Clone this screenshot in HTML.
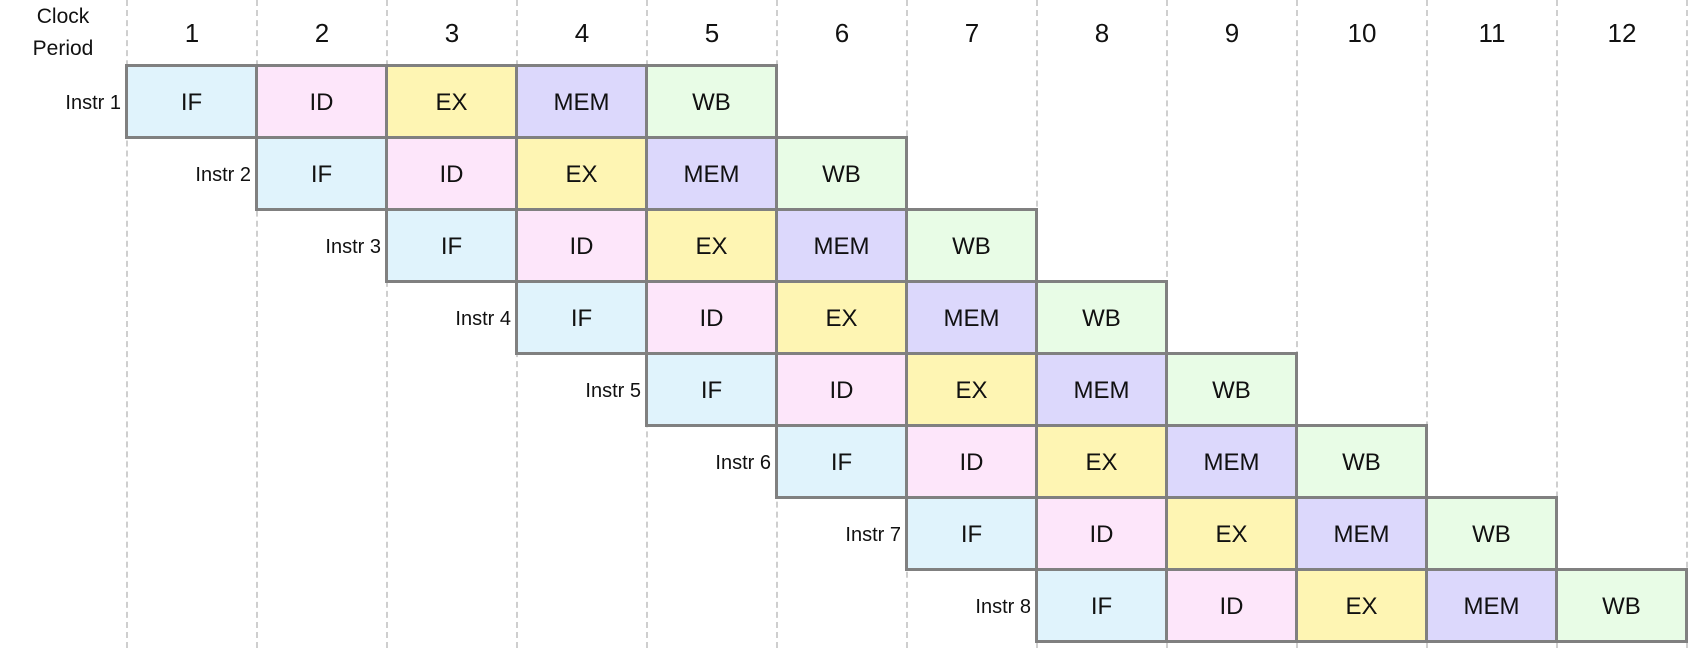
<!DOCTYPE html>
<html><head><meta charset="utf-8"><style>
html,body{margin:0;padding:0;background:#fff;width:1692px;height:648px;overflow:hidden;position:relative;font-family:"Liberation Sans",sans-serif;}
.g{position:absolute;top:0;height:648px;width:0;border-left:2px dashed #cfcfcf;}
.h{position:absolute;top:18px;width:130px;text-align:center;font-size:26px;color:#111;}
.c{position:absolute;box-sizing:border-box;width:133px;height:75px;border:3px solid #808080;display:flex;align-items:center;justify-content:center;font-size:24px;color:#111;padding-top:2px;}
.l{position:absolute;width:120px;text-align:right;font-size:20px;color:#111;}
.IF{background:#e0f3fc}.ID{background:#fde6fa}.EX{background:#fef5b3}.MEM{background:#dcd8fc}.WB{background:#e8fce6}
</style></head><body>
<div style="position:absolute;left:0;top:1px;width:126px;text-align:center;font-size:21px;line-height:32px;color:#111">Clock<br>Period</div>
<script>
var s=["IF","ID","EX","MEM","WB"],h="";
for(var k=0;k<13;k++)h+='<div class="g" style="left:'+(126+130*k)+'px"></div>';
for(var k=0;k<12;k++)h+='<div class="h" style="left:'+(127+130*k)+'px">'+(k+1)+'</div>';
for(var r=0;r<8;r++){
 var y=64+r*72;
 h+='<div class="l" style="left:'+(1+130*r)+'px;top:'+(y+28)+'px">Instr '+(r+1)+'</div>';
 for(var i=0;i<5;i++){h+='<div class="c '+s[i]+'" style="left:'+(125+130*(r+i))+'px;top:'+y+'px">'+s[i]+'</div>';}
}
document.write(h);
</script>
</body></html>
